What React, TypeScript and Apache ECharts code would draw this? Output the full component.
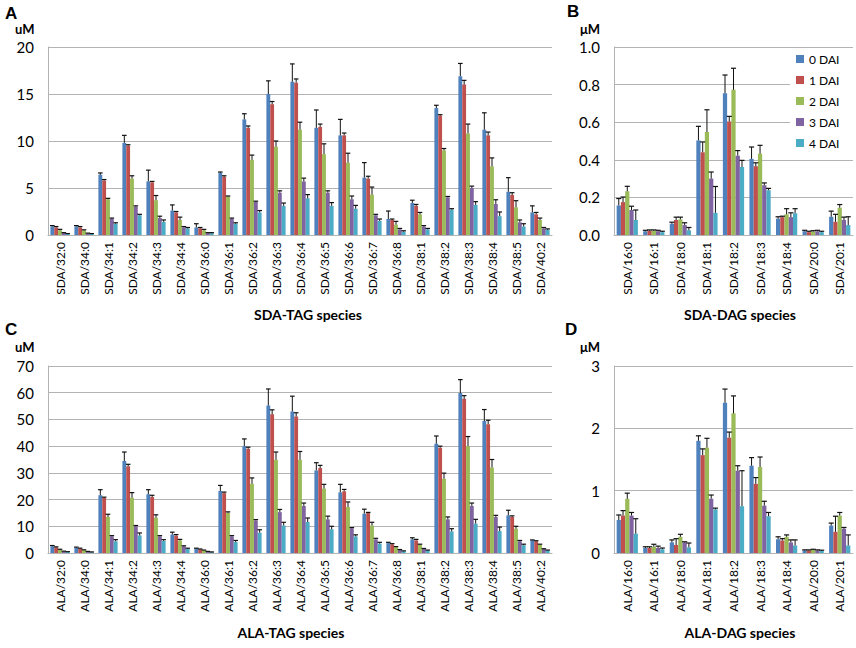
import React, { useEffect, useRef } from "react";
import * as echarts from "echarts";

const daiNames = ["0 DAI", "1 DAI", "2 DAI", "3 DAI", "4 DAI"];
const daiColors = ["#4F81BD", "#C0504D", "#9BBB59", "#8064A2", "#4BACC6"];

const sdaTagCats = ["SDA/32:0", "SDA/34:0", "SDA/34:1", "SDA/34:2", "SDA/34:3", "SDA/34:4", "SDA/36:0", "SDA/36:1", "SDA/36:2", "SDA/36:3", "SDA/36:4", "SDA/36:5", "SDA/36:6", "SDA/36:7", "SDA/36:8", "SDA/38:1", "SDA/38:2", "SDA/38:3", "SDA/38:4", "SDA/38:5", "SDA/40:2"];
const sdaTagMean = [
  [0.9, 0.9, 6.4, 9.8, 5.7, 2.6, 0.8, 6.6, 12.3, 15.0, 16.3, 11.4, 10.6, 6.1, 1.7, 3.4, 13.5, 16.9, 11.2, 4.6, 2.4],
  [0.8, 0.8, 5.8, 9.5, 5.6, 2.4, 0.7, 6.2, 11.4, 13.9, 16.2, 11.5, 10.6, 6.0, 1.6, 3.1, 12.7, 16.0, 10.6, 4.25, 2.2],
  [0.5, 0.5, 3.8, 6.0, 3.7, 1.6, 0.5, 4.1, 8.0, 9.4, 11.2, 8.6, 7.7, 4.3, 1.1, 2.2, 9.0, 10.8, 7.3, 2.95, 1.6],
  [0.2, 0.15, 1.7, 3.0, 1.8, 0.8, 0.2, 1.7, 3.5, 4.5, 5.7, 4.5, 3.8, 2.1, 0.6, 0.9, 4.0, 5.0, 3.3, 1.35, 0.7],
  [0.1, 0.1, 1.2, 2.1, 1.4, 0.7, 0.2, 1.2, 2.4, 3.1, 3.9, 3.1, 2.8, 1.5, 0.35, 0.6, 2.7, 3.2, 2.0, 0.9, 0.55],
];
const sdaTagErr = [
  [0.1, 0.1, 0.2, 0.8, 1.2, 0.6, 0.4, 0.1, 0.6, 1.4, 1.9, 1.9, 1.7, 1.6, 0.85, 0.3, 0.3, 1.35, 1.8, 1.5, 0.7],
  [0.1, 0.1, 0.1, 0.1, 0.1, 0.1, 0.1, 0.1, 0.2, 0.3, 0.4, 0.3, 0.25, 0.25, 0.1, 0.15, 0.1, 0.45, 0.35, 0.25, 0.2],
  [0.1, 0.05, 0.1, 0.3, 0.5, 0.3, 0.1, 0.05, 0.5, 0.6, 0.8, 1.1, 1.0, 0.8, 0.35, 0.2, 0.2, 1.0, 0.9, 0.7, 0.2],
  [0.05, 0.05, 0.1, 0.1, 0.2, 0.1, 0.05, 0.1, 0.1, 0.2, 0.35, 0.2, 0.35, 0.1, 0.1, 0.1, 0.1, 0.2, 0.45, 0.25, 0.1],
  [0.05, 0.05, 0.1, 0.1, 0.2, 0.1, 0.05, 0.1, 0.2, 0.3, 0.4, 0.35, 0.35, 0.2, 0.1, 0.1, 0.1, 0.35, 0.45, 0.3, 0.1],
];

const sdaDagCats = ["SDA/16:0", "SDA/16:1", "SDA/18:0", "SDA/18:1", "SDA/18:2", "SDA/18:3", "SDA/18:4", "SDA/20:0", "SDA/20:1"];
const sdaDagMean = [
  [0.157, 0.02, 0.06, 0.503, 0.754, 0.405, 0.087, 0.02, 0.097],
  [0.175, 0.022, 0.08, 0.44, 0.604, 0.366, 0.095, 0.015, 0.07],
  [0.233, 0.022, 0.083, 0.548, 0.772, 0.433, 0.11, 0.018, 0.145],
  [0.133, 0.02, 0.053, 0.3, 0.422, 0.265, 0.095, 0.02, 0.08],
  [0.08, 0.015, 0.025, 0.118, 0.362, 0.238, 0.115, 0.015, 0.053],
];
const sdaDagErr = [
  [0.037, 0.005, 0.008, 0.075, 0.097, 0.063, 0.01, 0.005, 0.03],
  [0.027, 0.005, 0.015, 0.055, 0.027, 0.018, 0.005, 0.005, 0.04],
  [0.026, 0.005, 0.012, 0.118, 0.115, 0.044, 0.03, 0.005, 0.017],
  [0.02, 0.005, 0.012, 0.035, 0.027, 0.012, 0.023, 0.005, 0.015],
  [0.053, 0.005, 0.015, 0.14, 0.035, 0.01, 0.025, 0.005, 0.044],
];

const alaTagCats = ["ALA/32:0", "ALA/34:0", "ALA/34:1", "ALA/34:2", "ALA/34:3", "ALA/34:4", "ALA/36:0", "ALA/36:1", "ALA/36:2", "ALA/36:3", "ALA/36:4", "ALA/36:5", "ALA/36:6", "ALA/36:7", "ALA/36:8", "ALA/38:1", "ALA/38:2", "ALA/38:3", "ALA/38:4", "ALA/38:5", "ALA/40:2"];
const alaTagMean = [
  [2.5, 1.9, 21.6, 34.4, 22.0, 6.9, 1.6, 23.2, 40.0, 55.2, 53.0, 30.9, 22.7, 14.7, 3.7, 5.1, 40.9, 59.9, 49.4, 14.1, 4.7],
  [2.1, 1.6, 20.6, 32.5, 21.0, 6.5, 1.3, 22.4, 39.0, 51.9, 51.1, 31.8, 23.1, 15.0, 3.2, 4.7, 39.4, 57.7, 48.2, 13.5, 4.4],
  [1.2, 1.1, 13.5, 20.7, 13.2, 4.7, 1.0, 15.0, 25.9, 34.9, 34.9, 24.1, 17.2, 10.3, 2.2, 3.1, 27.8, 40.0, 32.0, 9.1, 3.1],
  [0.6, 0.5, 6.2, 10.0, 6.2, 2.5, 0.5, 6.2, 12.2, 15.3, 17.6, 12.6, 9.2, 5.1, 1.2, 1.6, 12.6, 17.6, 13.5, 4.4, 1.5],
  [0.4, 0.3, 4.4, 6.6, 4.5, 1.6, 0.3, 4.1, 7.6, 10.3, 11.6, 8.9, 6.2, 3.5, 0.7, 1.0, 8.1, 11.0, 8.2, 2.9, 1.0],
];
const alaTagErr = [
  [0.3, 0.3, 2.1, 3.4, 1.7, 0.9, 0.2, 2.1, 2.7, 6.2, 5.7, 2.9, 3.0, 1.7, 0.3, 0.6, 2.9, 5.0, 4.3, 1.9, 0.2],
  [0.2, 0.2, 0.3, 0.7, 0.6, 0.4, 0.2, 0.4, 0.6, 1.7, 1.4, 1.0, 0.7, 0.2, 0.3, 0.4, 0.6, 1.2, 1.5, 0.4, 0.2],
  [0.2, 0.1, 1.0, 1.9, 1.1, 0.4, 0.1, 0.4, 2.2, 2.9, 3.1, 1.6, 1.9, 1.2, 0.2, 0.2, 2.1, 3.6, 3.0, 0.9, 0.2],
  [0.1, 0.1, 0.3, 0.3, 0.3, 0.2, 0.1, 0.3, 0.3, 1.0, 1.1, 1.2, 0.3, 0.4, 0.1, 0.1, 0.9, 1.1, 0.6, 0.3, 0.1],
  [0.1, 0.1, 0.6, 0.9, 0.5, 0.2, 0.1, 0.6, 1.1, 1.2, 1.5, 1.1, 0.6, 0.5, 0.1, 0.1, 1.0, 1.6, 1.5, 0.4, 0.1],
];

const alaDagCats = ["ALA/16:0", "ALA/16:1", "ALA/18:0", "ALA/18:1", "ALA/18:2", "ALA/18:3", "ALA/18:4", "ALA/20:0", "ALA/20:1"];
const alaDagMean = [
  [0.53, 0.08, 0.17, 1.8, 2.41, 1.4, 0.22, 0.04, 0.44],
  [0.6, 0.08, 0.13, 1.57, 1.85, 1.11, 0.2, 0.04, 0.34],
  [0.87, 0.1, 0.26, 1.69, 2.24, 1.38, 0.26, 0.05, 0.6],
  [0.6, 0.08, 0.17, 0.87, 1.32, 0.76, 0.17, 0.04, 0.39],
  [0.31, 0.06, 0.09, 0.7, 0.75, 0.59, 0.12, 0.035, 0.12],
];
const alaDagErr = [
  [0.08, 0.02, 0.04, 0.08, 0.22, 0.13, 0.04, 0.01, 0.04],
  [0.08, 0.02, 0.1, 0.1, 0.09, 0.1, 0.03, 0.01, 0.25],
  [0.09, 0.04, 0.04, 0.15, 0.28, 0.16, 0.03, 0.01, 0.05],
  [0.05, 0.03, 0.01, 0.06, 0.08, 0.07, 0.04, 0.01, 0.02],
  [0.24, 0.02, 0.07, 0.02, 0.57, 0.06, 0.09, 0.01, 0.17],
];

const yMax = [20, 1, 70, 3];
const yStep = [5, 0.2, 10, 1];

const FONT = "Lato, 'Open Sans', sans-serif";
const GRID_COLOR = "#b3b3b3";
const CAT_GAP = 0.2;

export default function App() {
  const ref = useRef<HTMLDivElement>(null);

  useEffect(() => {
    if (!ref.current) return;
    const chart = echarts.init(ref.current, undefined, { renderer: "svg" });

    const panels = [
      { cats: sdaTagCats, mean: sdaTagMean, err: sdaTagErr },
      { cats: sdaDagCats, mean: sdaDagMean, err: sdaDagErr },
      { cats: alaTagCats, mean: alaTagMean, err: alaTagErr },
      { cats: alaDagCats, mean: alaDagMean, err: alaDagErr },
    ];

    const grids = [
      { left: 48, top: 47, width: 504, height: 188 },
      { left: 614, top: 47, width: 239, height: 188 },
      { left: 48, top: 366, width: 504, height: 187 },
      { left: 614, top: 366, width: 239, height: 187 },
    ];

    const xAxes = panels.map((p, g) => ({
      type: "category",
      gridIndex: g,
      data: p.cats,
      axisTick: { show: false },
      axisLine: { lineStyle: { color: GRID_COLOR, width: 1 } },
      axisLabel: {
        rotate: 90,
        interval: 0,
        margin: 7,
        fontSize: 12,
        color: "#000",
        fontFamily: FONT,
      },
    }));

    const yAxes = panels.map((_, g) => ({
      type: "value",
      gridIndex: g,
      min: 0,
      max: yMax[g],
      interval: yStep[g],
      axisLine: { show: true, lineStyle: { color: GRID_COLOR, width: 1 } },
      axisTick: { show: false },
      splitLine: { lineStyle: { color: GRID_COLOR, width: 1 } },
      axisLabel: {
        fontSize: 15,
        color: "#000",
        margin: 14,
        fontFamily: FONT,
        formatter: (v: number) => (g === 1 ? v.toFixed(1) : String(v)),
      },
    }));

    const series: any[] = [];
    panels.forEach((p, g) => {
      p.mean.forEach((vals, s) => {
        series.push({
          type: "bar",
          name: daiNames[s],
          xAxisIndex: g,
          yAxisIndex: g,
          data: vals,
          barGap: "0%",
          barCategoryGap: `${CAT_GAP * 100}%`,
          itemStyle: { color: daiColors[s] },
        });
      });
    });
    panels.forEach((p, g) => {
      p.mean.forEach((vals, s) => {
        const errs = p.err[s];
        series.push({
          type: "custom",
          name: `err-${g}-${s}`,
          xAxisIndex: g,
          yAxisIndex: g,
          z: 5,
          data: vals.map((m, i) => [i, m, m + errs[i]]),
          renderItem: (params: any, api: any) => {
            const xi = api.value(0);
            const lo = api.value(1);
            const hi = api.value(2);
            const band = api.size([1, 0])[0];
            const bw = (band * (1 - CAT_GAP)) / 5;
            const p0 = api.coord([xi, lo]);
            const p1 = api.coord([xi, hi]);
            const cx = p0[0] + (s - 2) * bw;
            const half = Math.max(2, bw * 0.6);
            return {
              type: "group",
              children: [
                {
                  type: "line",
                  shape: { x1: cx, y1: p0[1], x2: cx, y2: p1[1] },
                  style: { stroke: "#111", lineWidth: 1 },
                },
                {
                  type: "line",
                  shape: { x1: cx - half, y1: p1[1], x2: cx + half, y2: p1[1] },
                  style: { stroke: "#111", lineWidth: 1.2 },
                },
              ],
            };
          },
        });
      });
    });

    const txt = (text: string, x: number, y: number, font: string, align = "left") => ({
      type: "text",
      x,
      y,
      style: { text, font, fill: "#000", textAlign: align, textVerticalAlign: "middle" },
    });
    const letterFont = "bold 17px 'Liberation Sans', Arial, sans-serif";
    const unitFont = `bold 13px ${FONT}`;
    const titleFont = `bold 14px ${FONT}`;

    chart.setOption({
      animation: false,
      backgroundColor: "#fff",
      grid: grids,
      xAxis: xAxes,
      yAxis: yAxes,
      legend: {
        data: daiNames,
        orient: "vertical",
        left: 790,
        top: 50,
        padding: [3, 18, 3, 6],
        backgroundColor: "#fff",
        itemWidth: 8,
        itemHeight: 8,
        itemGap: 9,
        icon: "rect",
        textStyle: { fontSize: 12, lineHeight: 12, color: "#000", fontFamily: FONT },
        z: 10,
      },
      series,
      graphic: [
        txt("A", 5, 13, letterFont),
        txt("B", 567, 11, letterFont),
        txt("C", 5, 329, letterFont),
        txt("D", 565, 329, letterFont),
        txt("uM", 15, 29, unitFont),
        txt("μM", 580, 29, unitFont),
        txt("uM", 15, 347, unitFont),
        txt("μM", 580, 347, unitFont),
        txt("SDA-TAG species", 308, 314, titleFont, "center"),
        txt("SDA-DAG species", 740, 314, titleFont, "center"),
        txt("ALA-TAG species", 291, 632, titleFont, "center"),
        txt("ALA-DAG species", 740, 632, titleFont, "center"),
      ],
    });

    return () => chart.dispose();
  }, []);

  return (
    <div
      ref={ref}
      style={{ position: "absolute", left: 0, top: 0, width: 856, height: 648 }}
    />
  );
}
